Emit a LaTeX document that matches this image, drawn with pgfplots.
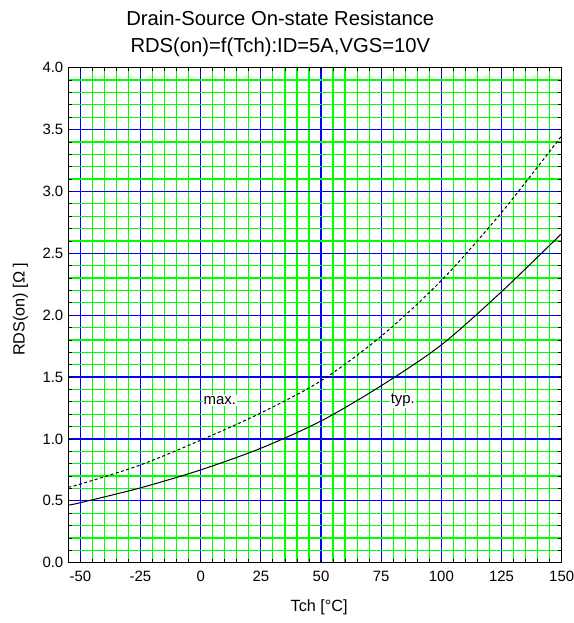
\documentclass[border=0pt]{standalone}
\usepackage{pgfplots}
\pgfplotsset{compat=1.18}
\usepackage{fontspec}
\setmainfont{Liberation Sans}
\definecolor{gridgreen}{RGB}{0,255,0}
\definecolor{gridblue}{RGB}{0,0,255}
\begin{document}
\begin{tikzpicture}
\begin{axis}[name=ax, at={(0,0)}, anchor=south west, scale only axis,
 width=493.4bp, height=495bp,
 xmin=-55, xmax=150, ymin=0, ymax=4,
 xtick={-50,-25,...,150}, ytick={0,0.5,...,4},
 minor x tick num=4, minor y tick num=4,
 xmajorgrids=true, ymajorgrids=true, xminorgrids=true, yminorgrids=true,
 every axis grid/.style={},
 every major grid/.style={draw=gridblue, line width=1.2bp},
 every minor grid/.style={draw=gridgreen, line width=1.2bp},
 tick align=inside, major tick length=3.5bp, minor tick length=3.5bp,
 every tick/.style={draw=black, line width=0.8bp},
 axis line style={black, line width=1bp},
 /pgf/number format/assume math mode=true,
 ticklabel style={font=\fontsize{15}{17}\selectfont},
 xticklabel style={yshift=-4.5bp},
 yticklabel style={xshift=-1.5bp},
 yticklabel={\pgfmathprintnumber[fixed, fixed zerofill, precision=1]{\tick}},
 label style={font=\fontsize{16.3}{18}\selectfont},
 xlabel={Tch [°C]}, ylabel={RDS(on) [Ω ]},
 xlabel style={at={(axis description cs:0.5085,-0.090)}, anchor=center},
 ylabel style={at={(axis description cs:-0.0969,0.512)}, anchor=center},
]
\addplot[black, line width=1bp, smooth] coordinates {
(-55,0.465) (-50,0.485) (-25,0.605) (0,0.75) (25,0.925) (50,1.145) (75,1.43) (100,1.76) (125,2.19) (150,2.66)};
\addplot[black, line width=1bp, smooth, dash pattern=on 3bp off 2.5bp] coordinates {
(-55,0.61) (-50,0.635) (-25,0.79) (0,0.99) (25,1.21) (50,1.47) (75,1.83) (100,2.28) (125,2.83) (150,3.45)};
\node[fill=white, inner sep=1pt, font=\fontsize{15}{17}\selectfont] at (axis cs:8,1.31) {max.};
\node[fill=white, inner sep=1pt, font=\fontsize{15}{17}\selectfont] at (axis cs:84,1.31) {typ.};
\end{axis}
\node[font=\fontsize{20.3}{22}\selectfont, anchor=base] at ([shift={(212bp,536.7bp)}]ax.south west) {Drain-Source On-state Resistance};
\node[font=\fontsize{20.3}{22}\selectfont, anchor=base] at ([shift={(212bp,510bp)}]ax.south west) {RDS(on)=f(Tch):ID=5A,VGS=10V};
\pgfresetboundingbox
\path[use as bounding box] ([shift={(-68.3bp,-60.3bp)}]ax.south west) rectangle ([shift={(505.7bp,562.7bp)}]ax.south west);
\end{tikzpicture}
\end{document}
